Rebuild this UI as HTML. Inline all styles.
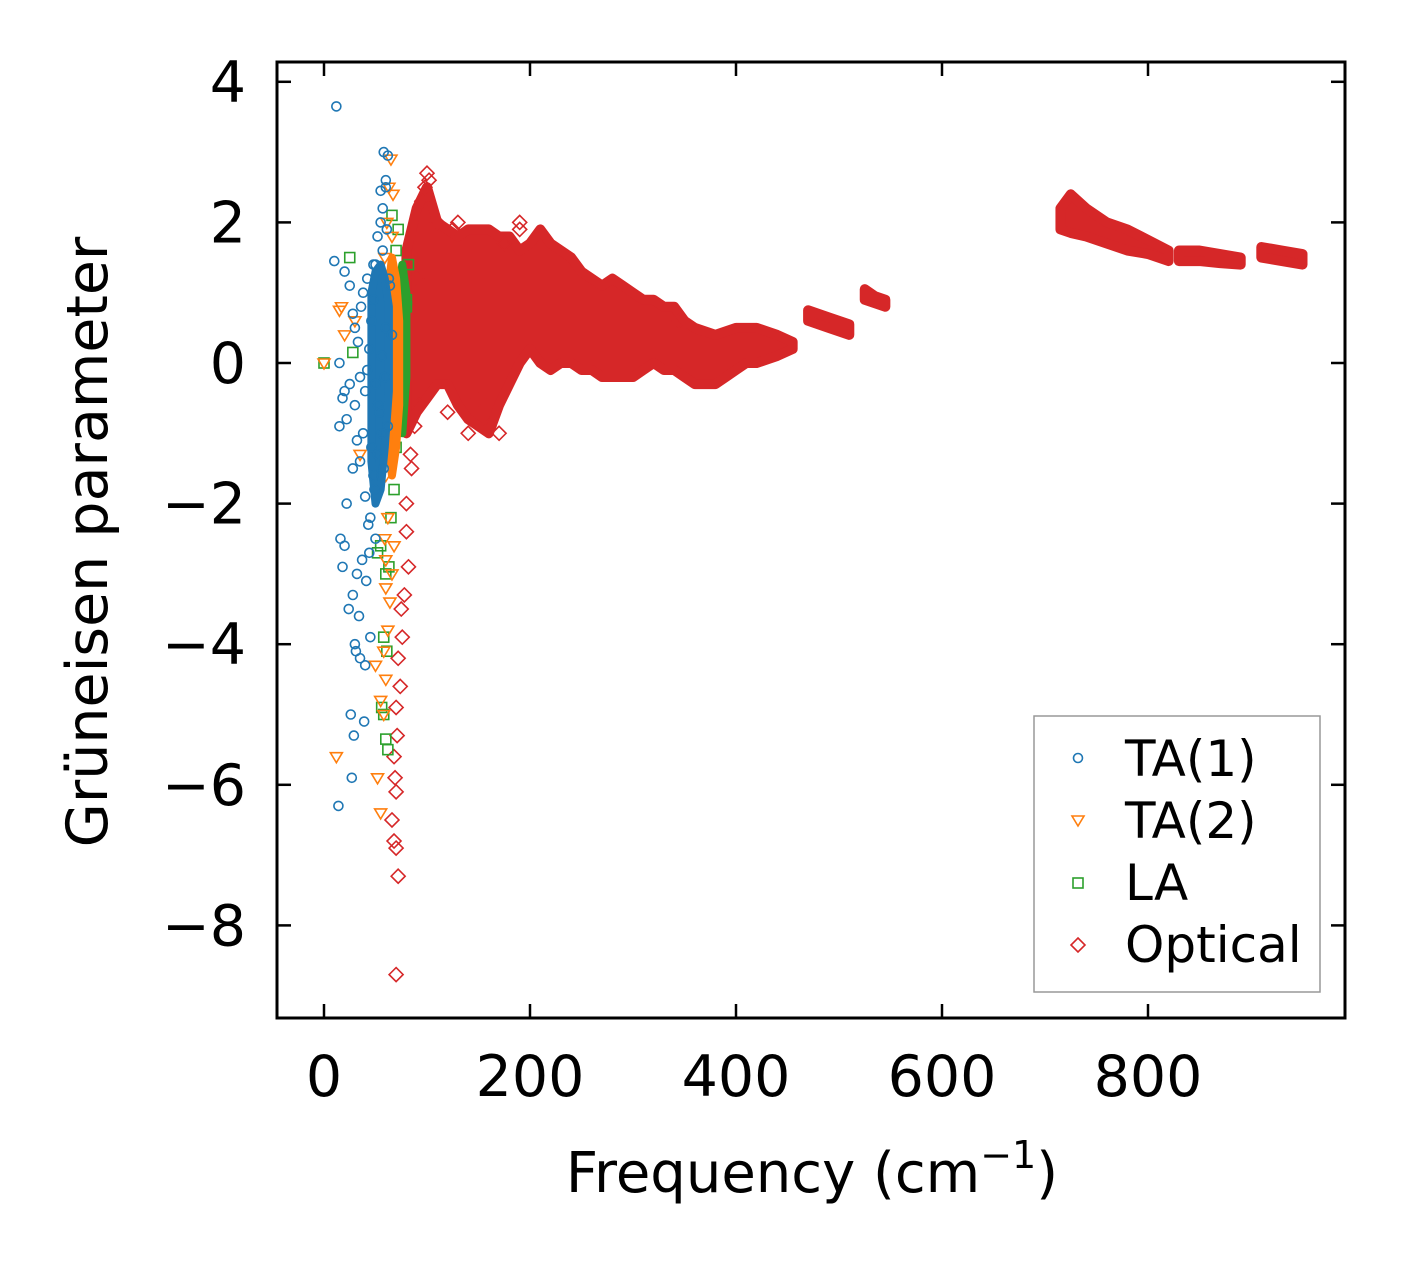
<!DOCTYPE html>
<html><head><meta charset="utf-8"><style>
html,body{margin:0;padding:0;background:#fff}
svg{display:block}
text{font-family:"DejaVu Sans","Liberation Sans",sans-serif;fill:#000}
</style></head><body>
<svg id="chart" width="1406" height="1266" viewBox="0 0 1406 1266" xmlns="http://www.w3.org/2000/svg">
<g id="marks"></g>
<g id="axes"></g>
<text x="812" y="1192" font-size="56" text-anchor="middle">Frequency (cm<tspan font-size="38" dy="-24">−1</tspan><tspan dy="24">)</tspan></text>
<text transform="translate(107,542) rotate(-90)" font-size="57" text-anchor="middle">Grüneisen parameter</text>
<g>
<rect x="1034" y="716" width="286" height="276" fill="#fff" stroke="#999" stroke-width="1.5"/>
<circle cx="1078" cy="758" r="4.5" fill="none" stroke="#1f77b4" stroke-width="1.6"/>
<text x="1125" y="776" font-size="50">TA(1)</text>
<path d="M1072,816 L1084,816 L1078,826 Z" fill="none" stroke="#ff7f0e" stroke-width="1.6"/>
<text x="1125" y="838" font-size="50">TA(2)</text>
<rect x="1073" y="878" width="10" height="10" fill="none" stroke="#2ca02c" stroke-width="1.6"/>
<text x="1125" y="900" font-size="50">LA</text>
<path d="M1078,938 L1085,945 L1078,952 L1071,945 Z" fill="none" stroke="#d62728" stroke-width="1.6"/>
<text x="1125" y="962" font-size="50">Optical</text>
</g>
</svg>
<script>
// axis config
const xTicks=[0,200,400,600,800];
const yTicks=[4,2,0,-2,-4,-6,-8];
const yTickLabels=["4","2","0","−2","−4","−6","−8"];
// Optical dense band segments: frequency, upper, lower
const optFreq=[80,90,100,110,120,130,140,150,160,170,180,190,200,210,220,230,240,250,260,270,280,290,300,310,320,330,340,350,360,370,380,390,400,410,420,430,440,455];
const optUpper=[1.6,2.2,2.5,2.0,1.9,1.8,1.9,1.9,1.9,1.8,1.8,1.6,1.7,1.9,1.7,1.6,1.5,1.3,1.2,1.1,1.2,1.1,1.0,0.9,0.9,0.8,0.8,0.6,0.5,0.45,0.4,0.45,0.5,0.5,0.5,0.45,0.4,0.3];
const optLower=[-1.0,-0.7,-0.5,-0.3,-0.3,-0.6,-0.8,-0.9,-1.0,-0.6,-0.3,0.0,0.2,0.0,-0.1,0.0,0.0,-0.1,-0.1,-0.2,-0.2,-0.2,-0.2,-0.1,0.0,-0.1,-0.1,-0.2,-0.3,-0.3,-0.3,-0.2,-0.1,0.0,0.0,0.05,0.1,0.2];
const opt2Freq=[470,490,510]; const opt2Upper=[0.75,0.65,0.55]; const opt2Lower=[0.6,0.5,0.4];
const opt3Freq=[525,535,545]; const opt3Upper=[1.05,0.95,0.9]; const opt3Lower=[0.9,0.85,0.8];
const opt4Freq=[715,725,740,760,780,800,820]; const opt4Upper=[2.2,2.4,2.2,2.0,1.9,1.75,1.6]; const opt4Lower=[1.9,1.85,1.8,1.7,1.6,1.55,1.45];
const opt5Freq=[830,850,870,890]; const opt5Upper=[1.6,1.6,1.55,1.5]; const opt5Lower=[1.45,1.45,1.42,1.4];
const opt6Freq=[910,930,950]; const opt6Upper=[1.65,1.6,1.55]; const opt6Lower=[1.5,1.45,1.4];
// Dense acoustic columns (frequency, upper, lower)
const ta1BandFreq=[46,50,55,59,63]; const ta1BandUpper=[1.0,1.3,1.4,1.2,0.8]; const ta1BandLower=[-1.4,-2.0,-1.8,-1.2,-0.4];
const ta2BandFreq=[62,66,70,73]; const ta2BandUpper=[1.0,1.5,1.2,0.6]; const ta2BandLower=[-1.0,-1.6,-1.2,-0.6];
const laBandFreq=[72,76,80]; const laBandUpper=[1.0,1.4,1.0]; const laBandLower=[-0.8,-1.0,-0.2];
// Optical scattered outliers
const optPtsX=[100,98,102,95,90,85,80,82,78,75,76,72,74,70,71,68,69,70,66,68,70,72,80,84,88,92,120,140,150,160,170,190,345,190,175,130,110,125];
const optPtsY=[2.7,2.5,2.6,2.3,1.2,-1.5,-2.4,-2.9,-3.3,-3.5,-3.9,-4.2,-4.6,-4.9,-5.3,-5.6,-5.9,-6.1,-6.5,-6.8,-6.9,-7.3,-2.0,-1.3,-0.9,-0.6,-0.7,-1.0,-0.5,-0.9,-1.0,2.0,0.6,1.9,1.7,2.0,2.0,1.9];
const optOutlier=[70,-8.7];
// TA(1)
const ta1X=[12,14,10,20,18,25,22,28,30,32,35,38,40,42,45,48,50,52,55,58,60,62,55,57,59,60,62,63,48,50,44,40,36,33,30,28,26,24,22,20,18,16,15,27,29,31,34,37,41,43,46,49,52,54,56,58,30,35,40,45,50,32,28,25,20,15,38,42,46,52,57,61,64,66,48,44,39,35,56,60];
const ta1Y=[3.65,-6.3,1.45,1.3,-0.5,1.1,-0.8,0.7,0.5,-1.1,-1.4,1.0,-1.9,1.2,-2.2,0.9,1.4,-0.6,2.45,3.0,2.6,2.95,2.0,1.6,-0.2,0.5,-0.9,1.2,-1.6,-0.3,0.2,-0.4,0.8,0.3,-0.6,-3.3,-5.0,-3.5,-2.0,-2.6,-2.9,-2.5,-0.9,-5.9,-5.3,-4.1,-3.6,-2.8,-3.1,-2.3,-1.2,-1.8,-1.3,-0.7,0.1,-1.5,-4.0,-4.2,-4.3,-3.9,-2.5,-3.0,-1.5,-0.3,-0.4,0.0,-1.0,-0.1,0.6,1.8,2.2,1.9,1.1,0.4,1.4,-2.7,-5.1,-0.2,-1.0,2.5];
// TA(2)
const ta2X=[0,15,20,30,52,55,58,60,62,64,66,68,62,60,58,56,54,57,59,61,63,65,67,64,60,58,12,17,35,50,55,66,68,63,60,59];
const ta2Y=[0,0.75,0.4,0.6,-5.9,-6.4,-5.0,-4.5,-3.8,-3.4,-3.0,-2.6,-2.2,-1.6,-1.0,-0.4,0.3,0.9,1.5,2.0,2.5,2.9,2.4,1.1,-2.8,-4.1,-5.6,0.8,-1.3,-4.3,-4.8,1.8,-0.8,0.0,-3.2,-2.5];
// LA
const laX=[0,25,28,52,56,58,60,62,60,58,55,65,68,70,72,75,78,80,82,70,66,62,74,77,80,63,61,69,72];
const laY=[0,1.5,0.15,-2.7,-4.9,-5.0,-5.35,-5.5,-3.0,-3.9,-2.6,-2.2,-1.8,-1.2,-0.7,-0.2,0.4,0.9,1.4,1.6,2.1,1.0,-0.5,0.2,0.8,-2.9,-4.1,0.5,1.9];

const NS="http://www.w3.org/2000/svg";
const X0=277,X1=1345,Y0=62,Y1=1018;
function sx(v){return 324+v*1.03;}
function sy(v){return 363-v*70.3;}
const marks=document.getElementById('marks'),axes=document.getElementById('axes');
function mk(tag,attrs,parent){const e=document.createElementNS(NS,tag);for(const k in attrs)e.setAttribute(k,attrs[k]);parent.appendChild(e);return e;}
const RED="#d62728";
function band(f,u,l,name,col,sw){
  let pts=[];
  for(let i=0;i<f.length;i++)pts.push(sx(f[i])+','+sy(u[i]));
  for(let i=f.length-1;i>=0;i--)pts.push(sx(f[i])+','+sy(l[i]));
  const p=mk('polygon',{points:pts.join(' '),fill:col||RED,stroke:col||RED,'stroke-width':sw||10,'stroke-linejoin':'round'},marks);
  
  
}
function diamond(x,y,name){
  const cx=sx(x),cy=sy(y);
  const p=mk('path',{d:`M${cx},${cy-7}L${cx+7},${cy}L${cx},${cy+7}L${cx-7},${cy}Z`,fill:'none',stroke:RED,'stroke-width':1.6},marks);
  
  
}
function circ(x,y){
  const c=mk('circle',{cx:sx(x),cy:sy(y),r:4.5,fill:'none',stroke:'#1f77b4','stroke-width':1.6},marks);
  
  
}
function tri(x,y){
  const cx=sx(x),cy=sy(y);
  const p=mk('path',{d:`M${cx-6},${cy-4}L${cx+6},${cy-4}L${cx},${cy+6}Z`,fill:'none',stroke:'#ff7f0e','stroke-width':1.6},marks);
  
  
}
function sq(x,y){
  const r=mk('rect',{x:sx(x)-5,y:sy(y)-5,width:10,height:10,fill:'none',stroke:'#2ca02c','stroke-width':1.6},marks);
  
  
}
band(optFreq,optUpper,optLower,'optical-band-main');
band(opt2Freq,opt2Upper,opt2Lower,'optical-band-470');
band(opt3Freq,opt3Upper,opt3Lower,'optical-band-530');
band(opt4Freq,opt4Upper,opt4Lower,'optical-band-720');
band(opt5Freq,opt5Upper,opt5Lower,'optical-band-840');
band(opt6Freq,opt6Upper,opt6Lower,'optical-band-930');
for(let i=0;i<optPtsX.length;i++)diamond(optPtsX[i],optPtsY[i],'optical-point');
diamond(optOutlier[0],optOutlier[1],'optical-outlier');
band(laBandFreq,laBandUpper,laBandLower,'la-dense-band','#2ca02c',8);
for(let i=0;i<laX.length;i++)sq(laX[i],laY[i]);
band(ta2BandFreq,ta2BandUpper,ta2BandLower,'ta2-dense-band','#ff7f0e',8);
for(let i=0;i<ta2X.length;i++)tri(ta2X[i],ta2Y[i]);
band(ta1BandFreq,ta1BandUpper,ta1BandLower,'ta1-dense-band','#1f77b4',8);
for(let i=0;i<ta1X.length;i++)circ(ta1X[i],ta1Y[i]);
// frame
const fr=mk('rect',{x:X0,y:Y0,width:X1-X0,height:Y1-Y0,fill:'none',stroke:'#000','stroke-width':3},axes);


xTicks.forEach(v=>{
  const x=sx(v);
  const t1=mk('line',{x1:x,x2:x,y1:Y1,y2:Y1-14,stroke:'#000','stroke-width':2.5},axes);
  
  
  const t2=mk('line',{x1:x,x2:x,y1:Y0,y2:Y0+14,stroke:'#000','stroke-width':2.5},axes);
  
  
  const tl=mk('text',{x:x,y:1096,'font-size':57,'text-anchor':'middle'},axes);
  tl.textContent=String(v);
  
  
});
yTicks.forEach((v,i)=>{
  const y=sy(v);
  const t1=mk('line',{x1:X0,x2:X0+14,y1:y,y2:y,stroke:'#000','stroke-width':2.5},axes);
  
  
  const t2=mk('line',{x1:X1,x2:X1-14,y1:y,y2:y,stroke:'#000','stroke-width':2.5},axes);
  
  
  const tl=mk('text',{x:246,y:y+20,'font-size':57,'text-anchor':'end'},axes);
  tl.textContent=yTickLabels[i];
  
  
});
</script>
</body></html>
